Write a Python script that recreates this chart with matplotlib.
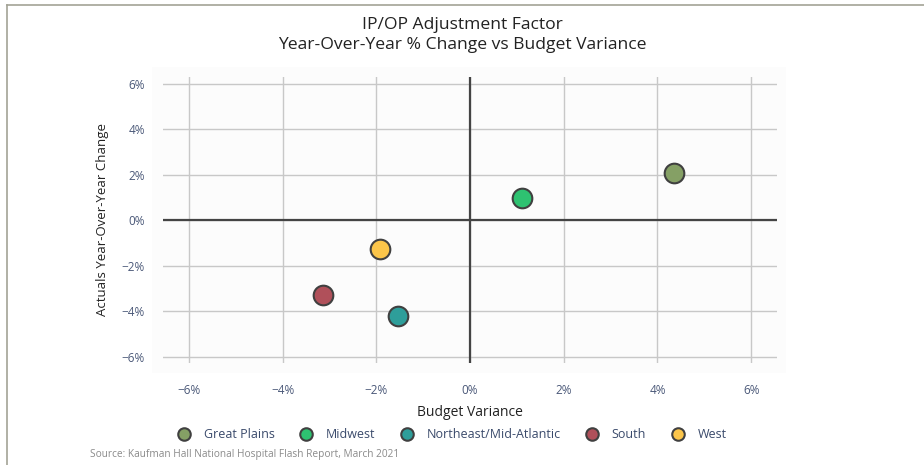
import matplotlib.pyplot as plt
from matplotlib.lines import Line2D
from matplotlib.patches import Rectangle
from matplotlib.ticker import FuncFormatter

plt.rcParams['font.family'] = ['Open Sans', 'DejaVu Sans']

# Regions and their values (in %)
regions = ['Great Plains', 'Midwest', 'Northeast/Mid-Atlantic', 'South', 'West']
budget_variance = [4.36, 1.10, -1.54, -3.13, -1.93]
yoy_change = [2.10, 0.99, -4.21, -3.30, -1.25]
colors = ['#85a065', '#2ec271', '#2e9e9a', '#b0505a', '#fbc54a']
ticks = [-6, -4, -2, 0, 2, 4, 6]

fig = plt.figure(figsize=(9.24, 4.65), dpi=100)

# light plot-area background, a bit larger than the grid
fig.add_artist(Rectangle((152 / 924, 1 - 373 / 465), 634 / 924, 306 / 465,
                         transform=fig.transFigure, facecolor='#fcfcfc',
                         edgecolor='none', zorder=0))
# outer frame (top and left visible)
fig.add_artist(Line2D([7 / 924, 1], [1 - 5 / 465, 1 - 5 / 465], color='#a3a396', lw=1.2))
fig.add_artist(Line2D([7 / 924, 7 / 924], [0, 1 - 5 / 465], color='#a3a396', lw=1.2))

ax = fig.add_axes([163 / 924, 1 - 363 / 465, 614 / 924, 286 / 465])
ax.set_facecolor('none')
for s in ax.spines.values():
    s.set_visible(False)

ax.set_xlim(-6.55, 6.55)
ax.set_ylim(-6.27, 6.3)
ax.set_xticks(ticks)
ax.set_yticks(ticks)
pct = FuncFormatter(lambda v, p: f'{v:.0f}%'.replace('-', '\u2212'))
ax.xaxis.set_major_formatter(pct)
ax.yaxis.set_major_formatter(pct)
ax.tick_params(length=0, labelsize=8.5, labelcolor='#4a5878')
ax.tick_params(axis='x', pad=15)
ax.tick_params(axis='y', pad=13)
ax.grid(True, color='#c8c8c8', lw=1)
ax.set_axisbelow(True)
ax.axhline(0, color='#444444', lw=1.6, zorder=1)
ax.axvline(0, color='#444444', lw=1.6, zorder=1)

for name, xv, yv, c in zip(regions, budget_variance, yoy_change, colors):
    ax.scatter(xv, yv, s=200, color=c, edgecolor='#404040', linewidth=1.5,
               zorder=3, label=name)

ax.set_xlabel('Budget Variance', fontsize=10, color='#222222', labelpad=6)
ax.set_ylabel('Actuals Year-Over-Year Change', fontsize=9.5, color='#222222', labelpad=9)

fig.text(0.5, 1 - 25 / 465, 'IP/OP Adjustment Factor', ha='center', va='center',
         fontsize=12.6, color='#222222')
fig.text(0.5, 1 - 45 / 465, 'Year-Over-Year % Change vs Budget Variance', ha='center',
         va='center', fontsize=12.6, color='#222222')

handles = [Line2D([], [], marker='o', ls='none', markersize=9, markerfacecolor=c,
                  markeredgecolor='#404040', markeredgewidth=1.5) for c in colors]
leg = fig.legend(handles, regions, loc='center', bbox_to_anchor=(452 / 924, 1 - 435 / 465),
                 ncol=5, frameon=False, fontsize=9, handletextpad=1.1,
                 columnspacing=2.0, handlelength=1.0, borderpad=0, borderaxespad=0)
for t in leg.get_texts():
    t.set_color('#3a4a6b')

fig.text(90 / 924, 1 - 454 / 465, 'Source: Kaufman Hall National Hospital Flash Report, March 2021',
         ha='left', va='center', fontsize=7.3, color='#8a8a8a')

fig.savefig('out.png', dpi=100)
